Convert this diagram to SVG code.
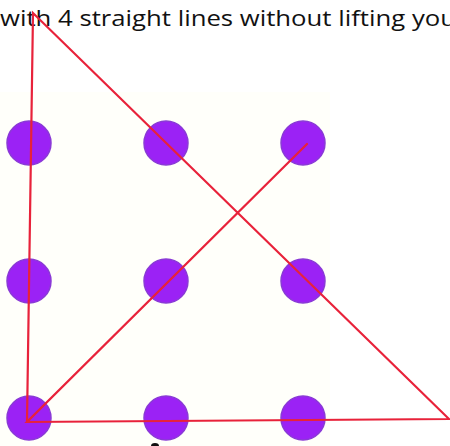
<svg xmlns="http://www.w3.org/2000/svg" width="450" height="446" viewBox="0 0 450 446">
<style>
.dot{fill:#9b22f5;stroke:#8a3ad6;stroke-width:1.5}
.ln{stroke:#e8223a;stroke-width:2.2;fill:none;stroke-linecap:round;stroke-linejoin:miter}
.t{font-family:"Open Sans","Liberation Sans",sans-serif;font-size:21.5px;fill:#111}
</style>
<rect width="450" height="446" fill="#ffffff"/>
<rect x="0" y="92" width="330" height="354" fill="#fffffa"/>
<text class="t" x="0" y="26" textLength="456" lengthAdjust="spacingAndGlyphs">with 4 straight lines without lifting you</text>
<g id="dots">
<g id="d1"><circle class="dot" cx="29" cy="143" r="22"/></g>
<g id="d2"><circle class="dot" cx="166" cy="143" r="22"/></g>
<g id="d3"><circle class="dot" cx="303" cy="143" r="22"/></g>
<g id="d4"><circle class="dot" cx="29" cy="281" r="22"/></g>
<g id="d5"><circle class="dot" cx="166" cy="281" r="22"/></g>
<g id="d6"><circle class="dot" cx="303" cy="281" r="22"/></g>
<g id="d7"><circle class="dot" cx="29" cy="418" r="22"/></g>
<g id="d8"><circle class="dot" cx="166" cy="418" r="22"/></g>
<g id="d9"><circle class="dot" cx="303" cy="418" r="22"/></g>
</g>
<ellipse cx="155" cy="446" rx="4" ry="3" fill="#111"/>
<g id="connectors">
<polyline class="ln" points="307,144 27,422 449,419 33,13 27,422"/>
</g>
</svg>
